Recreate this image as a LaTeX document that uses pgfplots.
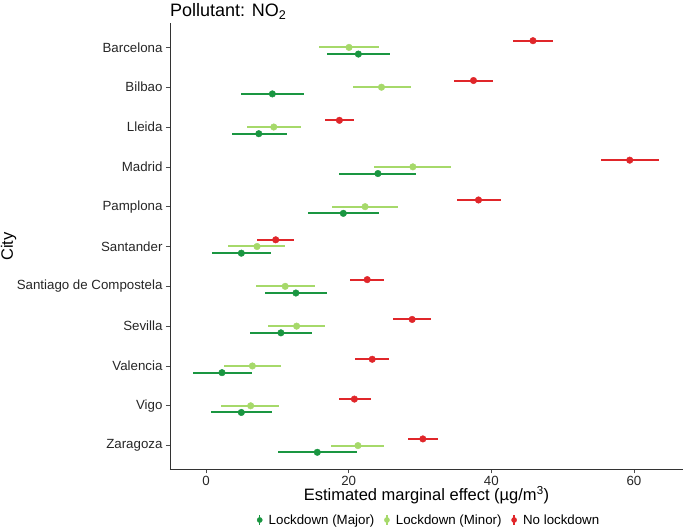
\documentclass[border=0pt]{standalone}
\usepackage{fontspec}
\setmainfont{Liberation Sans}
\usepackage{pgfplots}
\usepackage{pgfplotstable}
\pgfplotsset{compat=1.18}
\definecolor{major}{HTML}{1A9641}
\definecolor{minor}{HTML}{A6D96A}
\definecolor{nolock}{HTML}{E0262A}

% pos = city index (Barcelona = 11 at top), x = estimate, lo/hi = interval
\pgfplotstableread{
pos x lo hi
11 21.36 17.0 25.8
10 9.3 4.95 13.7
9 7.4 3.6 11.4
8 24.1 18.7 29.4
7 19.25 14.3 24.3
6 4.95 0.84 9.07
5 12.6 8.3 17.0
4 10.5 6.2 14.8
3 2.24 -1.8 6.4
2 4.95 0.7 9.2
1 15.6 10.1 21.1
}\major

\pgfplotstableread{
pos x lo hi
11 20.05 15.8 24.3
10 24.6 20.6 28.7
9 9.5 5.8 13.3
8 29.0 23.6 34.3
7 22.3 17.7 26.9
6 7.15 3.1 11.1
5 11.1 7.0 15.3
4 12.7 8.7 16.7
3 6.5 2.5 10.5
2 6.26 2.15 10.3
1 21.3 17.5 25.0
}\minor

\pgfplotstableread{
pos x lo hi
11 45.84 43.1 48.6
10 37.5 34.8 40.3
9 18.7 16.7 20.8
8 59.4 55.4 63.55
7 38.2 35.2 41.4
6 9.77 7.2 12.3
5 22.6 20.2 25.0
4 28.9 26.2 31.6
3 23.3 20.9 25.7
2 20.8 18.6 23.1
1 30.4 28.3 32.5
}\nolock

\begin{document}
\begin{tikzpicture}
\useasboundingbox (-170pt,-60.5pt) rectangle (513pt,469.5pt);
\begin{axis}[
  at={(0pt,0pt)}, anchor=south west,
  scale only axis, width=513pt, height=446pt,
  xmin=-5.05, xmax=66.87, ymin=0.4, ymax=11.6,
  axis x line=bottom, axis y line=left,
  axis line style={-, black!80, line width=0.7pt},
  tick align=outside, major tick length=4pt,
  tick style={black!70, line width=0.7pt},
  xtick={0,20,40,60},
  ytick={1,2,3,4,5,6,7,8,9,10,11},
  yticklabels={Zaragoza,Vigo,Valencia,Sevilla,Santiago de Compostela,Santander,Pamplona,Madrid,Lleida,Bilbao,Barcelona},
  /pgf/number format/assume math mode=true,
  tick label style={font=\fontsize{13.3}{15}\selectfont, text=black!85},
  xticklabel style={yshift=1pt},
  xlabel={Estimated marginal effect (µg/m\textsuperscript{3})},
  ylabel={City},
  xlabel style={font=\fontsize{16.5}{18}\selectfont, at={(rel axis cs:0.5,0)}, anchor=center, yshift=-25.5pt},
  ylabel style={font=\fontsize{16.5}{18}\selectfont, at={(rel axis cs:0,0.5)}, anchor=center, yshift=161.5pt},
  title={Pollutant: NO\textsubscript{2}},
  title style={font=\fontsize{18}{20}\selectfont, at={(rel axis cs:0,1)}, anchor=base west, yshift=0.5pt, inner sep=0pt},
  legend columns=3,
  legend style={draw=none, fill=none, at={(rel axis cs:0.5,0)}, anchor=center, yshift=-50.5pt, xshift=2pt,
    font=\fontsize{13.3}{15}\selectfont,
    /tikz/every even column/.append style={column sep=6.5pt},
    inner sep=0pt},
  legend cell align=left,
  legend image code/.code={\path[draw=none,fill=none] (-4pt,0pt) (7pt,0pt); \draw[line width=1.4pt] (0pt,-5pt) -- (0pt,5pt); \fill (0pt,0pt) circle (2.6pt);},
  error bars/error bar style={line width=2pt},
]
\addplot[major, only marks, mark=*, mark size=3.3pt,
  error bars/.cd, x dir=both, x explicit, error mark=none]
  table[x=x, y expr=\thisrow{pos}-0.168, x error plus expr=\thisrow{hi}-\thisrow{x}, x error minus expr=\thisrow{x}-\thisrow{lo}] {\major};
\addlegendentry{Lockdown (Major)}
\addplot[minor, only marks, mark=*, mark size=3.3pt,
  error bars/.cd, x dir=both, x explicit, error mark=none]
  table[x=x, y expr=\thisrow{pos}, x error plus expr=\thisrow{hi}-\thisrow{x}, x error minus expr=\thisrow{x}-\thisrow{lo}] {\minor};
\addlegendentry{Lockdown (Minor)}
\addplot[nolock, only marks, mark=*, mark size=3.3pt,
  error bars/.cd, x dir=both, x explicit, error mark=none]
  table[x=x, y expr=\thisrow{pos}+0.168, x error plus expr=\thisrow{hi}-\thisrow{x}, x error minus expr=\thisrow{x}-\thisrow{lo}] {\nolock};
\addlegendentry{No lockdown}
\end{axis}
\end{tikzpicture}
\end{document}
